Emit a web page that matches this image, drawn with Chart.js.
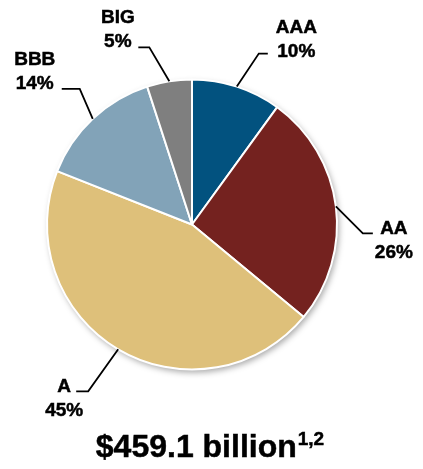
<!DOCTYPE html>
<html>
<head>
<meta charset="utf-8">
<script src="https://cdn.jsdelivr.net/npm/chart.js@4"></script>
<style>
  html, body { margin: 0; padding: 0; background: #fff; }
  #wrap { width: 423px; height: 469px; position: relative; }
</style>
</head>
<body>
<div id="wrap"><canvas id="ratingPie"></canvas></div>
<script>
// portfolio by rating
const ratings = ["AAA", "AA", "A", "BBB", "BIG"];
const shares = [10, 26, 45, 14, 5];
const sliceColors = ["#02527f", "#74221f", "#dec07a", "#82a3b8", "#7f7f7f"];
const totalLabel = "$459.1 billion";
const totalNote = "1,2";

const FONT = '"Liberation Sans", Arial, sans-serif';

// leader line: elbow offset from the slice edge, then a short horizontal run;
// text is centred relative to the elbow
const leaders = {
  AAA: { ex: 22, ey: -33, run: 9, tx: 37.5, ty: -21 },
  AA: { ex: 27, ey: 27, run: 10, tx: 31, ty: 1 },
  A: { ex: -30, ey: 42, run: -12, tx: -24, ty: 1 },
  BBB: { ex: -13, ey: -30, run: -18, tx: -45, ty: -24 },
  BIG: { ex: -20, ey: -34, run: -11, tx: -31.5, ty: -24 },
};

// soft drop shadow under the pie
const pieShadow = {
  id: "pieShadow",
  beforeDatasetsDraw(chart) {
    const arc = chart.getDatasetMeta(0).data[0];
    if (!arc) return;
    const ctx = chart.ctx;
    ctx.save();
    ctx.shadowColor = "rgba(0,0,0,0.35)";
    ctx.shadowBlur = 6;
    ctx.shadowOffsetX = 2;
    ctx.shadowOffsetY = 3;
    ctx.fillStyle = "#fff";
    ctx.beginPath();
    ctx.arc(arc.x, arc.y, arc.outerRadius, 0, Math.PI * 2);
    ctx.fill();
    ctx.restore();
  },
};

function boldText(ctx, txt, x, y) {
  ctx.fillText(txt, x, y);
  ctx.strokeText(txt, x, y);
}

const sliceLabels = {
  id: "sliceLabels",
  afterDatasetsDraw(chart) {
    const ctx = chart.ctx;
    const meta = chart.getDatasetMeta(0);
    ctx.save();
    meta.data.forEach((arc, i) => {
      const name = ratings[i];
      const l = leaders[name];
      const mid = (arc.startAngle + arc.endAngle) / 2;
      const ax = arc.x + Math.cos(mid) * arc.outerRadius;
      const ay = arc.y + Math.sin(mid) * arc.outerRadius;
      const bx = ax + l.ex;
      const by = ay + l.ey;

      ctx.strokeStyle = "#000";
      ctx.lineWidth = 1.8;
      ctx.beginPath();
      ctx.moveTo(ax, ay);
      ctx.lineTo(bx, by);
      ctx.lineTo(bx + l.run, by);
      ctx.stroke();

      ctx.fillStyle = "#000";
      ctx.lineWidth = 0.5;
      ctx.font = "bold 19px " + FONT;
      ctx.textAlign = "center";
      ctx.textBaseline = "alphabetic";
      boldText(ctx, name, bx + l.tx, by + l.ty);
      boldText(ctx, shares[i] + "%", bx + l.tx, by + l.ty + 24);
    });

    // total under the pie, with footnote marks
    ctx.textAlign = "left";
    ctx.font = "bold 32px " + FONT;
    const mainW = ctx.measureText(totalLabel).width;
    ctx.font = "bold 19px " + FONT;
    const noteW = ctx.measureText(totalNote).width;
    const startX = 210 - (mainW + noteW + 1) / 2;
    ctx.font = "bold 32px " + FONT;
    boldText(ctx, totalLabel, startX, 457);
    ctx.font = "bold 19px " + FONT;
    boldText(ctx, totalNote, startX + mainW + 1, 445);
    ctx.restore();
  },
};

new Chart(document.getElementById("ratingPie"), {
  type: "pie",
  data: {
    labels: ratings,
    datasets: [
      {
        data: shares,
        backgroundColor: sliceColors,
        borderColor: "#fff",
        borderWidth: 2,
        radius: 145,
      },
    ],
  },
  options: {
    responsive: true,
    maintainAspectRatio: false,
    animation: false,
    events: [],
    layout: { padding: { left: 47, right: 86, top: 80, bottom: 100 } },
    plugins: {
      legend: { display: false },
      tooltip: { enabled: false },
    },
  },
  plugins: [pieShadow, sliceLabels],
});
</script>
</body>
</html>
